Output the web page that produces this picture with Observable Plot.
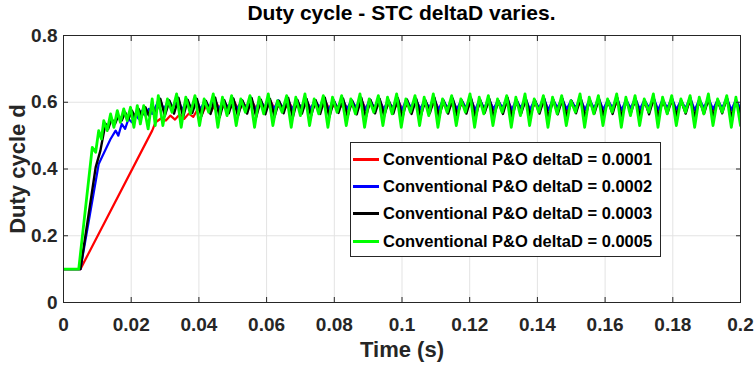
<!DOCTYPE html>
<html><head><meta charset="utf-8">
<script src="https://cdn.jsdelivr.net/npm/d3@7"></script>
<script src="https://cdn.jsdelivr.net/npm/@observablehq/plot@0.6"></script>
<style>
body{margin:0;background:#fff;}
#wrap{position:relative;width:756px;height:373px;font-family:"Liberation Sans",Arial,sans-serif;font-weight:bold;color:#000;}
#title{height:24px;line-height:26px;padding-left:63px;padding-right:16px;text-align:center;font-size:21px;}
#chart svg{display:block;}
#legend{position:absolute;left:350px;top:142px;width:311px;height:115px;border:1px solid #262626;background:#fff;box-sizing:border-box;}
.row{position:absolute;left:0;height:20px;display:flex;align-items:center;font-size:16.5px;white-space:nowrap;}
.swatch{width:26px;height:3px;margin-left:2px;margin-right:4px;}
</style></head><body>
<div id="wrap"><div id="title">Duty cycle - STC deltaD varies.</div><div id="chart"></div><div id="legend"></div></div>
<script>
const seriesNames = ["Conventional P&O deltaD = 0.0001","Conventional P&O deltaD = 0.0002","Conventional P&O deltaD = 0.0003","Conventional P&O deltaD = 0.0005"];
const seriesColors = ["#ff0000","#0000ff","#000000","#00ff00"];
const xTicks = [0,0.02,0.04,0.06,0.08,0.1,0.12,0.14,0.16,0.18,0.2];
const xTickLabels = ["0","0.02","0.04","0.06","0.08","0.1","0.12","0.14","0.16","0.18","0.2"];
const yTicks = [0,0.2,0.4,0.6,0.8];
const yTickLabels = ["0","0.2","0.4","0.6","0.8"];

// start-up transients (time, value)
const redStartT = [0,0.005,0.0262,0.0272];
const redStartV = [0.1,0.1,0.515,0.54];
const blueStartT = [0,0.005,0.0104,0.0139,0.0154,0.0162,0.0172,0.0182,0.0192,0.0202,0.0212,0.0222,0.0232,0.0242,0.0252,0.0262,0.0272];
const blueStartV = [0.1,0.1,0.415,0.49,0.515,0.5,0.535,0.52,0.55,0.54,0.565,0.55,0.575,0.56,0.58,0.565,0.585];
const blackStartT = [0,0.005,0.0095,0.0109,0.0124,0.0132,0.0142,0.0152,0.0162,0.0172,0.0182,0.0192,0.0202,0.0212,0.0222,0.0232,0.0242,0.0252,0.0262,0.0272];
const blackStartV = [0.1,0.1,0.405,0.455,0.536,0.52,0.55,0.535,0.56,0.545,0.57,0.55,0.575,0.555,0.58,0.56,0.585,0.56,0.595,0.565];
const greenStartT = [0,0.0045,0.0085,0.0095,0.0104,0.0112,0.0119,0.0129,0.0139,0.0149,0.0159,0.0168,0.0178,0.0188,0.0198,0.0208,0.0218,0.0227,0.0237,0.025,0.0262,0.0271];
const greenStartV = [0.1,0.1,0.465,0.45,0.515,0.49,0.545,0.515,0.565,0.525,0.575,0.54,0.58,0.545,0.585,0.525,0.59,0.535,0.59,0.52,0.61,0.53];

// steady-state oscillation samples (alternating peak / trough), evenly spaced up to t = 0.2
const redSteadyStart = 0.0289, blueSteadyStart = 0.0283, blackSteadyStart = 0.0286, greenSteadyStart = 0.028;
const redSteady = [
0.552,0.545,0.56,0.548,0.563,0.55,0.566,0.556,0.58,0.566,0.595,0.574,0.6,0.576,0.596,0.58,
0.602,0.575,0.597,0.579,0.6,0.576,0.598,0.58,0.603,0.575,0.596,0.579,0.6,0.577,0.597,0.58,
0.601,0.576,0.598,0.579,0.602,0.575,0.596,0.58,0.6,0.577,0.598,0.578,0.603,0.576,0.597,0.58,
0.6,0.575,0.598,0.579,0.602,0.576,0.596,0.58,0.601,0.577,0.598,0.579,0.603,0.575,0.597,0.58,
0.6,0.576,0.598,0.579,0.602,0.575,0.597,0.58,0.601,0.577,0.596,0.578,0.603,0.576,0.598,0.58,
0.6,0.575,0.597,0.579,0.602,0.577,0.598,0.58,0.601,0.575,0.596,0.579,0.603,0.576,0.598,0.58,
0.6,0.576,0.597,0.578,0.602,0.575,0.598,0.58,0.601,0.577,0.596,0.579,0.603,0.575,0.597,0.58,
0.6,0.576,0.598,0.579,0.602,0.575,0.597,0.58,0.601,0.577,0.598,0.579,0.603,0.576,0.597,0.58];
const blueSteady = [
0.613,0.578,0.607,0.584,0.615,0.576,0.609,0.582,0.612,0.579,0.606,0.584,0.614,0.577,0.608,0.583,
0.613,0.578,0.607,0.582,0.615,0.576,0.609,0.584,0.612,0.579,0.606,0.583,0.614,0.577,0.608,0.582,
0.613,0.578,0.607,0.584,0.615,0.576,0.608,0.582,0.612,0.579,0.607,0.584,0.614,0.577,0.609,0.583,
0.613,0.578,0.606,0.582,0.615,0.576,0.609,0.584,0.612,0.579,0.607,0.583,0.614,0.577,0.608,0.582,
0.613,0.578,0.607,0.584,0.615,0.576,0.609,0.582,0.612,0.579,0.606,0.584,0.614,0.577,0.608,0.583,
0.613,0.578,0.607,0.582,0.615,0.576,0.609,0.584,0.612,0.579,0.606,0.583,0.614,0.577,0.608,0.582,
0.613,0.578,0.607,0.584,0.615,0.576,0.608,0.582,0.612,0.579,0.607,0.584,0.614,0.577,0.609,0.583,
0.613,0.578,0.606,0.582,0.615,0.576,0.609,0.584,0.612,0.579,0.607,0.583,0.614,0.577,0.608,0.582];
const blackSteady = [
0.61,0.56,0.605,0.566,0.613,0.556,0.607,0.568,0.61,0.558,0.604,0.565,0.614,0.555,0.606,0.567,
0.611,0.559,0.605,0.566,0.612,0.556,0.608,0.564,0.61,0.557,0.604,0.567,0.613,0.555,0.607,0.566,
0.61,0.56,0.606,0.565,0.614,0.556,0.605,0.568,0.611,0.558,0.604,0.564,0.613,0.556,0.607,0.567,
0.61,0.559,0.605,0.566,0.612,0.555,0.608,0.565,0.61,0.558,0.606,0.567,0.614,0.556,0.605,0.566,
0.611,0.56,0.605,0.566,0.613,0.556,0.607,0.568,0.61,0.558,0.604,0.565,0.614,0.555,0.606,0.567,
0.61,0.559,0.606,0.566,0.612,0.556,0.608,0.564,0.611,0.557,0.604,0.567,0.613,0.555,0.607,0.566,
0.61,0.56,0.605,0.565,0.614,0.556,0.605,0.568,0.611,0.558,0.604,0.564,0.613,0.556,0.607,0.567,
0.61,0.559,0.605,0.566,0.612,0.555,0.608,0.565,0.61,0.558,0.606,0.567,0.614,0.556,0.605,0.566];
const greenSteady = [
0.62,0.53,0.61,0.57,0.625,0.525,0.615,0.565,0.62,0.53,0.61,0.57,0.625,0.525,0.615,0.56,
0.62,0.53,0.61,0.57,0.62,0.525,0.615,0.565,0.625,0.53,0.605,0.57,0.62,0.525,0.615,0.56,
0.625,0.53,0.61,0.565,0.62,0.525,0.615,0.57,0.62,0.53,0.61,0.565,0.625,0.525,0.61,0.57,
0.62,0.53,0.615,0.565,0.625,0.525,0.61,0.57,0.62,0.53,0.615,0.56,0.625,0.525,0.61,0.57,
0.62,0.53,0.61,0.57,0.625,0.525,0.615,0.565,0.62,0.53,0.61,0.57,0.62,0.525,0.615,0.56,
0.625,0.53,0.61,0.57,0.62,0.525,0.615,0.565,0.62,0.53,0.605,0.57,0.625,0.525,0.615,0.565,
0.62,0.53,0.61,0.57,0.625,0.525,0.615,0.56,0.62,0.53,0.61,0.57,0.625,0.525,0.615,0.565,
0.62,0.53,0.61,0.57,0.62,0.525,0.615,0.565,0.625,0.53,0.61,0.57,0.62,0.525,0.615,0.53];

function build(startT, startV, steadyStart, steady) {
  const rows = startT.map((t, i) => ({t, v: startV[i]}));
  const step = (0.2 - steadyStart) / (steady.length - 1);
  steady.forEach((v, i) => rows.push({t: steadyStart + i * step, v}));
  return rows;
}
const redData = build(redStartT, redStartV, redSteadyStart, redSteady);
const blueData = build(blueStartT, blueStartV, blueSteadyStart, blueSteady);
const blackData = build(blackStartT, blackStartV, blackSteadyStart, blackSteady);
const greenData = build(greenStartT, greenStartV, greenSteadyStart, greenSteady);

const chart = Plot.plot({
  width: 756, height: 349,
  marginLeft: 63, marginRight: 16, marginTop: 11, marginBottom: 71,
  x: {domain: [0, 0.2]},
  y: {domain: [0, 0.8]},
  style: {fontFamily: "'Liberation Sans', Arial, sans-serif", fontWeight: "bold", fontSize: "19px", color: "#262626", background: "#fff"},
  marks: [
    Plot.gridX(xTicks, {stroke: "#e3e3e3", strokeOpacity: 1}),
    Plot.gridY(yTicks, {stroke: "#e3e3e3", strokeOpacity: 1}),
    Plot.line(redData, {x: "t", y: "v", stroke: seriesColors[0], strokeWidth: 2.2, clip: true}),
    Plot.line(blueData, {x: "t", y: "v", stroke: seriesColors[1], strokeWidth: 2.2, clip: true}),
    Plot.line(blackData, {x: "t", y: "v", stroke: seriesColors[2], strokeWidth: 2.4, clip: true}),
    Plot.line(greenData, {x: "t", y: "v", stroke: seriesColors[3], strokeWidth: 2.8, clip: true}),
    Plot.frame({stroke: "#262626", strokeWidth: 1}),
    Plot.axisX(xTicks, {anchor: "bottom", tickSize: -5, tickFormat: () => "", label: null, stroke: "#262626"}),
    Plot.axisX(xTicks, {anchor: "top", tickSize: -5, tickFormat: () => "", label: null, stroke: "#262626"}),
    Plot.axisY(yTicks, {anchor: "left", tickSize: -5, tickFormat: () => "", label: null, stroke: "#262626"}),
    Plot.axisY(yTicks, {anchor: "right", tickSize: -5, tickFormat: () => "", label: null, stroke: "#262626"}),
    Plot.axisX(xTicks, {anchor: "bottom", tickSize: 0, tickPadding: 15, tickFormat: (d, i) => xTickLabels[i], label: null, fill: "#262626"}),
    Plot.axisY(yTicks, {anchor: "left", tickSize: 0, tickPadding: 6, tickFormat: (d, i) => yTickLabels[i], label: null, fill: "#262626"}),
    Plot.text(["Time (s)"], {frameAnchor: "bottom", dy: 54, fontSize: 22, fontWeight: "bold", fill: "#262626"}),
    Plot.text(["Duty cycle d"], {frameAnchor: "left", dx: -46, rotate: -90, textAnchor: "middle", fontSize: 22, fontWeight: "bold", fill: "#262626"})
  ]
});
document.getElementById("chart").appendChild(chart);

const legend = document.getElementById("legend");
const rowTops = [6, 33, 60, 88];
seriesNames.forEach((name, i) => {
  const row = document.createElement("div");
  row.className = "row";
  row.style.top = rowTops[i] + "px";
  const sw = document.createElement("div");
  sw.className = "swatch";
  sw.style.background = seriesColors[i];
  const tx = document.createElement("span");
  tx.textContent = name;
  row.appendChild(sw); row.appendChild(tx);
  legend.appendChild(row);
});
</script></body></html>
